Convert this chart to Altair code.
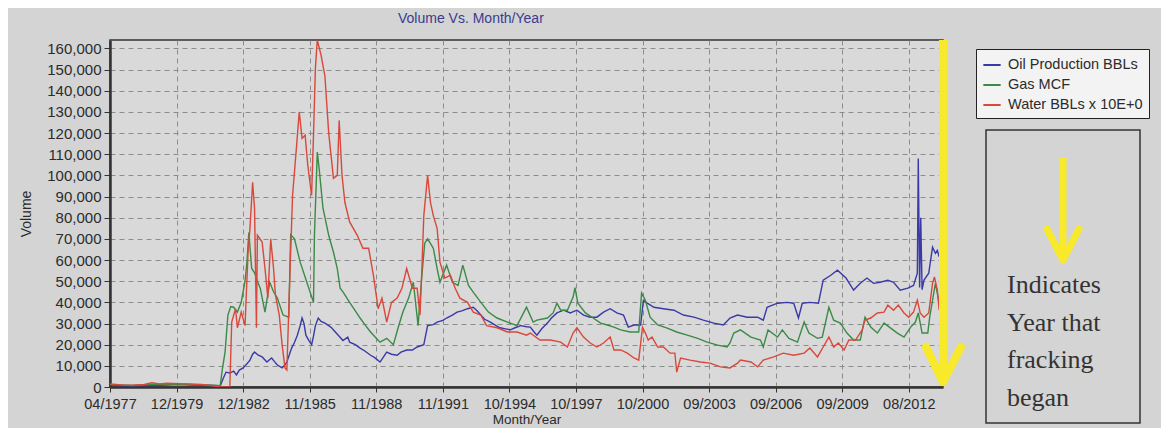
import json
import pandas as pd
import altair as alt

# ---------------- data ----------------
# x is the position along the (index-based) month axis: one tick label every 35 steps
x_labels = ["04/1977", "12/1979", "12/1982", "11/1985", "11/1988", "11/1991", "10/1994",
            "10/1997", "10/2000", "09/2003", "09/2006", "09/2009", "08/2012"]

series_names = ["Oil Production BBLs", "Gas MCF", "Water BBLs x 10E+0"]
series_colors = ["#3a3aa6", "#3b8a45", "#d9483b"]

oil_points = [
    (0, 900), (6, 700), (12, 600), (18, 800), (24, 700), (30, 900), (36, 1100), (42, 900), (48, 800), (54, 700), (58, 600),
    (59.5, 4000), (61, 7000), (63, 6600), (65, 7500), (66.5, 5700), (68, 8000), (70, 9000), (72, 11000), (73.6, 12700),
    (75, 15500), (76, 16500), (78, 15000), (80, 14200), (82.5, 11800), (84, 13000), (85, 13700), (86.5, 12000), (88, 10400),
    (90.5, 9000), (92, 10500), (93, 11800), (95.5, 18400), (97, 21000), (98.5, 24500), (100, 29000), (101, 32600), (102, 30000),
    (103, 24500), (104.5, 22000), (106, 20000), (107, 24000), (108, 29000), (109.5, 32600), (111, 31000), (113, 30200),
    (115, 29000), (116.5, 28000), (118, 26500), (120, 24500), (122.5, 22000), (125, 23600), (126, 21200), (129, 20000),
    (131.5, 18400), (134, 17000), (137, 15000), (139, 14000), (142, 11800), (144, 14500), (145.5, 16500), (148, 15500),
    (151, 15000), (153, 16500), (156, 17500), (159, 17500), (161.5, 18900), (165, 20000), (167, 29000), (170, 29500),
    (172, 30700), (175, 31500), (177, 32600), (180, 34000), (182.5, 35400), (185, 36000), (188, 37000), (191, 37700),
    (193, 36000), (195, 34000), (197, 32000), (200, 30700), (203, 29000), (205, 28000), (208, 27500), (210.5, 27000),
    (213, 28000), (216, 29000), (219, 28500), (221, 28300), (223, 26000), (224.5, 24500), (227, 27500), (230, 30200),
    (232, 32500), (235, 35000), (238.5, 36300), (242, 35000), (245.5, 36300), (249, 34000), (252.5, 33000), (256, 33000),
    (259.5, 35400), (263, 37000), (266.5, 35000), (270, 34000), (272.5, 28300), (275.5, 29300), (279, 29300), (280.5, 41000),
    (282.5, 39600), (286, 37700), (291, 37000), (296.5, 36300), (301.5, 34000), (307, 33000), (312, 31600), (317.5, 30200),
    (322.5, 29300), (326, 32600), (330, 34000), (335, 33000), (340.5, 33000), (343.5, 31600), (345.5, 37700), (351, 39600),
    (356, 40000), (359.5, 39600), (362, 32600), (364, 39600), (368, 40000), (372.5, 39600), (375, 50500), (379, 52800),
    (382.5, 55200), (387, 51500), (391, 45800), (394.5, 49000), (398, 51500), (401.5, 49000), (405, 49500), (409, 50500),
    (412, 49500), (415.5, 45800), (419.5, 46700), (422.5, 48000), (424.5, 53800), (425, 108000), (425.7, 47000),
    (426.3, 80000), (427, 46000), (428, 50500), (430.5, 53800), (432.5, 66100), (434, 63200), (435, 64600), (436, 61500),
]

gas_points = [
    (0, 1200), (6, 900), (12, 700), (18, 1000), (24, 1300), (30, 1100), (36, 1400), (42, 1200), (48, 1000), (54, 800), (57.5, 600),
    (58, 1000), (59, 8000), (60.5, 16500), (62, 34000), (63.5, 38000), (65, 37700), (67, 35400), (69, 40000), (71, 50000),
    (72, 59000), (73, 73000), (74.5, 56000), (76, 54000), (77.5, 50000), (79, 46700), (81.5, 35400), (83, 44000), (84, 49500),
    (86, 45000), (88, 42000), (91, 34000), (94, 33000), (95, 72000), (97, 70000), (100, 59000), (103.5, 49500), (107, 40000),
    (107.5, 71700), (109, 111000), (110, 103000), (112, 84500), (115, 71700), (117.5, 63700), (119.5, 56000), (121, 46700),
    (122.5, 45000), (126, 40000), (129, 36000), (131.5, 32600), (134, 29500), (137, 26000), (140, 23000), (142, 21200),
    (145.5, 23000), (149, 20000), (151.5, 28000), (154, 35400), (157, 42000), (159.5, 49500), (162, 29000), (164, 52800),
    (165.5, 68000), (167, 70000), (170, 65600), (172, 56000), (173.5, 49500), (177, 57600), (180, 49500), (183, 48000),
    (185.5, 57600), (188.5, 48000), (191, 44800), (195, 40000), (199, 35400), (203.5, 32600), (209, 30700), (214, 29000),
    (219, 37700), (222.5, 30700), (224.5, 31600), (230, 32600), (233, 35000), (235, 39600), (237, 36300), (240.5, 36300),
    (243.5, 42500), (244.5, 47000), (246, 39600), (250, 35000), (254, 32600), (258, 30200), (261.5, 29300), (265, 28300),
    (268.5, 27000), (273.5, 26000), (278, 26000), (279.5, 44400), (281.5, 41000), (284, 33000), (288, 29300), (293, 27800),
    (298, 26000), (303.5, 24500), (309, 23000), (314, 21200), (319.5, 19800), (324.5, 18900), (326, 20800), (328, 25500),
    (331.5, 27000), (337, 23600), (342, 22200), (343.5, 18900), (346, 27000), (351, 23600), (353.5, 27000), (357, 23000),
    (361.5, 21200), (365, 30700), (367.5, 25500), (372, 23000), (374.5, 23600), (378, 37700), (380.5, 31600), (384, 30200),
    (387.5, 25500), (391, 22200), (394.5, 22200), (397, 33000), (400, 28300), (403.5, 25500), (407, 30200), (410.5, 27800),
    (414, 25500), (417.5, 23600), (421, 28300), (423.5, 30700), (425, 35000), (427, 25500), (430, 25500), (431, 33000),
    (432.5, 41000), (434, 49000), (436, 39600),
]

water_points = [
    (0, 1500), (6, 1000), (12, 800), (18, 1200), (22, 2000), (26, 1500), (30, 1800), (36, 1600), (42, 1400), (48, 1200),
    (54, 600), (58, 0), (63, 0),
    (64, 30700), (66, 37000), (67, 28000), (69, 35400), (71, 29000), (72.6, 63700), (73.6, 75000), (75, 96800), (76, 84500),
    (77, 28000), (77.5, 71700), (80, 68500), (81.5, 56000), (83, 42000), (84.5, 70000), (86, 56000), (87, 43400), (89, 34000),
    (90.5, 20000), (92, 9000), (93, 8000), (94.7, 56000), (96, 90600), (98, 112800), (99.5, 130000), (101, 117500),
    (102.6, 119000), (104, 104800), (106, 90600), (107, 119000), (108, 150600), (109, 164000), (111, 156700), (113, 147000),
    (115, 120000), (117.5, 98600), (119.5, 100000), (120.5, 126000), (122, 100000), (123.5, 87300), (126, 78000),
    (130, 71700), (133, 65600), (136, 65600), (138.5, 52800), (141, 37000), (143, 42000), (145.5, 30700), (148, 40000),
    (151, 42000), (153.5, 46700), (156, 56000), (159, 46700), (161.5, 46700), (163, 34000), (164, 56000), (165, 81000),
    (167, 100000), (168.5, 87300), (170, 81000), (172, 75000), (173.5, 59000), (176, 51500), (179, 52800), (181.5, 46700),
    (184, 42000), (188, 40000), (191, 35400), (195, 34000), (198, 29000), (203.5, 28000), (209, 26000), (214, 26000),
    (219, 24500), (221, 25500), (226, 22200), (231.5, 22200), (237, 21200), (240.5, 18900), (243.5, 25500), (245.5, 28000),
    (249, 23600), (252.5, 20800), (256, 18900), (259.5, 20800), (263, 23600), (265, 17500), (268.5, 17500), (272, 16000),
    (275.5, 13700), (278, 12700), (280, 28300), (281.5, 25500), (283, 22200), (285, 23600), (288, 18900), (291, 18900),
    (294.5, 16000), (297, 16000), (298, 7000), (300, 13700), (305, 12700), (310.5, 11800), (315.5, 11300), (321, 9500),
    (326, 9000), (330, 11300), (331.5, 12700), (337, 11800), (340.5, 9500), (343.5, 12700), (349, 14200), (354, 16000),
    (359.5, 15000), (365, 16000), (368, 18400), (372, 14200), (375, 18900), (378, 23600), (380.5, 18900), (383, 20800),
    (386, 17500), (388.5, 22200), (392, 22200), (395.5, 27000), (397, 31600), (400, 32600), (403.5, 35000), (407, 35400),
    (409, 38700), (412, 36300), (414.5, 38700), (417.5, 35000), (420, 33000), (422.5, 35400), (424.5, 41000), (426, 35000),
    (428, 33000), (430.5, 35000), (432.5, 49000), (433.5, 52000), (435, 45800), (436, 36300),
]

note_lines = ["Indicates", "Year that", "fracking", "began"]

# ---------------- build table ----------------
rows = []
for name, pts in zip(series_names, [oil_points, gas_points, water_points]):
    for a, b in pts:
        rows.append({"series": name, "idx": a, "vol": b})
df = pd.DataFrame(rows)

W, H = 833, 347
STEP = 35
tick_vals = [i * STEP for i in range(len(x_labels))]
label_expr = json.dumps(x_labels) + "[round(datum.value / %d)]" % STEP

SANS = "Liberation Sans"
SERIF = "Liberation Serif"
TXT = "#2b2b2b"
YEL = "#f8ea2a"

lines = alt.Chart(df).mark_line(strokeWidth=1.4, clip=True).encode(
    x=alt.X("idx:Q",
            scale=alt.Scale(domain=[0, 438], nice=False, zero=False),
            axis=alt.Axis(values=tick_vals, labelExpr=label_expr, title="Month/Year",
                          labelFont=SANS, labelFontSize=14.5, labelColor=TXT,
                          labelPadding=5, tickSize=5, tickColor="#333", labelFlush=False,
                          domainColor="#333", domainWidth=2.5,
                          grid=True, gridColor="#8c8c8c", gridDash=[5, 4], gridWidth=1,
                          titleFont=SANS, titleFontSize=13.5, titleFontWeight="normal",
                          titleColor=TXT, titlePadding=2, labelOverlap=False)),
    y=alt.Y("vol:Q",
            scale=alt.Scale(domain=[0, 164000], nice=False),
            axis=alt.Axis(values=list(range(0, 160001, 10000)), format=",.0f", title="Volume",
                          labelFont=SANS, labelFontSize=15, labelColor=TXT,
                          labelPadding=3, tickSize=6, tickColor="#333", labelFlush=False,
                          domainColor="#333", domainWidth=2.5,
                          grid=True, gridColor="#8c8c8c", gridDash=[5, 4], gridWidth=1,
                          titleFont=SANS, titleFontSize=14, titleFontWeight="normal",
                          titleColor=TXT, titleX=-77, titleY=H / 2, labelOverlap=False)),
    color=alt.Color("series:N",
                    scale=alt.Scale(domain=series_names, range=series_colors),
                    legend=alt.Legend(orient="none", legendX=866, legendY=9, title=None,
                                      symbolType="stroke", symbolStrokeWidth=2, symbolSize=300,
                                      labelFont=SANS, labelFontSize=14.5, labelColor=TXT,
                                      labelOffset=6, rowPadding=3, padding=6,
                                      strokeColor="#222", fillColor="#f3f3f3")),
)

one = pd.DataFrame({"k": [0]})

note_box = alt.Chart(one).mark_rect(fillOpacity=0, stroke="#333", strokeWidth=1.5).encode(
    x=alt.value(876), x2=alt.value(1030), y=alt.value(90), y2=alt.value(383))

note_text = alt.Chart(one).mark_text(text=note_lines, font=SERIF, fontSize=26, color="#333",
                                     align="left", baseline="alphabetic", lineHeight=37.5).encode(
    x=alt.value(897), y=alt.value(253))

def seg(x1, y1, x2, y2, w, cap):
    return alt.Chart(one).mark_rule(color=YEL, strokeWidth=w, strokeCap=cap).encode(
        x=alt.value(x1), y=alt.value(y1), x2=alt.value(x2), y2=alt.value(y2))

arrow_main = [
    seg(833, 0, 833, 340, 8, "butt"),
    seg(816, 307, 833, 342, 8, "round"),
    seg(851, 307, 833, 342, 8, "round"),
]
arrow_small = [
    seg(953, 118, 953, 218, 7, "butt"),
    seg(937, 189, 953, 220, 7, "round"),
    seg(969, 189, 953, 220, 7, "round"),
]

chart = alt.layer(lines, note_box, note_text, *arrow_main, *arrow_small).properties(
    width=W, height=H,
    autosize="none",
    padding={"left": 102, "top": 32, "right": 1153 - 102 - W, "bottom": 420 - 32 - H},
    title=alt.TitleParams("Volume Vs. Month/Year", anchor="start", frame="group", dx=288,
                          offset=10, font=SANS, fontSize=14, fontWeight="normal", color="#3b3b8e"),
).configure(background="#d4d4d4").configure_view(fill="#d9d9d9", stroke="#333", strokeWidth=1.5)

chart.save("out.html", embed_options={"renderer": "svg", "actions": False})
